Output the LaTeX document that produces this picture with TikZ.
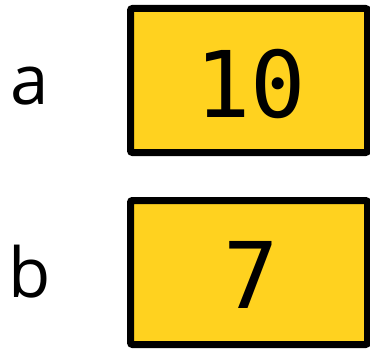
\documentclass[tikz,border=0pt]{standalone}
\usepackage{fontspec}
\setmainfont{Open Sans}
\setmonofont{DejaVu Sans Mono}
\usepackage{xcolor}
\usetikzlibrary{positioning}
\definecolor{vyellow}{HTML}{FFD21F}

\begin{document}
\begin{tikzpicture}[x=1pt, y=1pt]
\tikzset{
  varbox/.style={draw=black, fill=vyellow, line width=7pt, rounded corners=2pt,
    minimum width=237pt, minimum height=144pt, inner sep=0pt},
  varval/.style={font=\fontsize{92}{92}\selectfont\ttfamily, anchor=base, inner sep=0pt},
  varname/.style={font=\fontsize{69}{69}\selectfont, anchor=base, inner sep=0pt}
}
\useasboundingbox (0,0) rectangle (370,349);
\node[varbox] (boxa) at (249,268.5) {};
\node[varbox] (boxb) at (249,76.5) {};
\node[varval] (vala) at (251,232) {10};
\node[varval] (valb) at (251,41) {7};
\node[varname] (namea) at (30,244) {a};
\node[varname] (nameb) at (30,52) {b};
\end{tikzpicture}
\end{document}
